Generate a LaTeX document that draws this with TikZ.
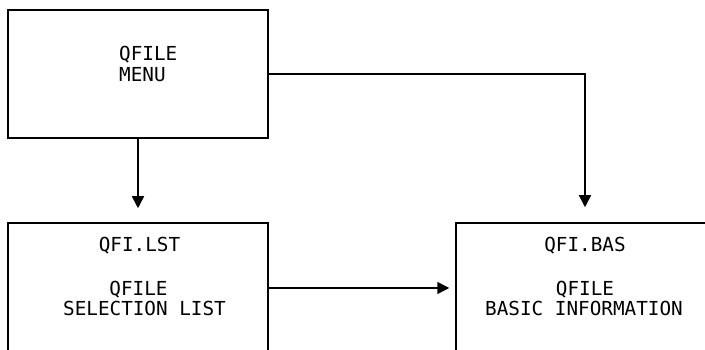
\documentclass[tikz,border=0pt]{standalone}
\usepackage{fontspec}
\setmonofont{DejaVu Sans Mono}
\usetikzlibrary{arrows.meta}
\tikzset{
  box/.style={draw, line width=1.5pt, rectangle, inner sep=0pt},
  lbl/.style={inner sep=0pt, font=\ttfamily\fontsize{19.3pt}{20.5pt}\selectfont},
  arr/.style={line width=1.5pt, -{Triangle[width=12pt,length=12pt]}}
}
\begin{document}
\begin{tikzpicture}[x=1pt,y=1pt]
\useasboundingbox (0,0) rectangle (705,350);
\clip (0,0) rectangle (705,350);
% boxes (pixel y measured from top: tikz y = 350 - y)
\node[box, minimum width=260pt, minimum height=128pt] (menu) at (138,276) {};
\node[box, minimum width=260pt, minimum height=130pt] (lst) at (138,62) {};
\node[box, minimum width=258pt, minimum height=130pt] (bas) at (585,62) {};
% texts
\node[lbl, anchor=base west] (t1) at (119,289) {QFILE};
\node[lbl, anchor=base west] (t2) at (119,268) {MENU};
\node[lbl, anchor=base] (t3) at (139.5,98) {QFI.LST};
\node[lbl, anchor=base] (t4) at (138.5,54) {QFILE};
\node[lbl, anchor=base] (t5) at (144.5,34) {SELECTION LIST};
\node[lbl, anchor=base] (t6) at (585,98) {QFI.BAS};
\node[lbl, anchor=base] (t7) at (585,54) {QFILE};
\node[lbl, anchor=base] (t8) at (584,34) {BASIC INFORMATION};
% connectors
\draw[arr, shorten >=14pt] (menu.south) -- (lst.north);
\draw[arr, shorten >=15pt] (menu.east) -| (bas.north);
\draw[arr, shorten >=6pt] (lst.east) -- (bas.west);
\end{tikzpicture}
\end{document}
